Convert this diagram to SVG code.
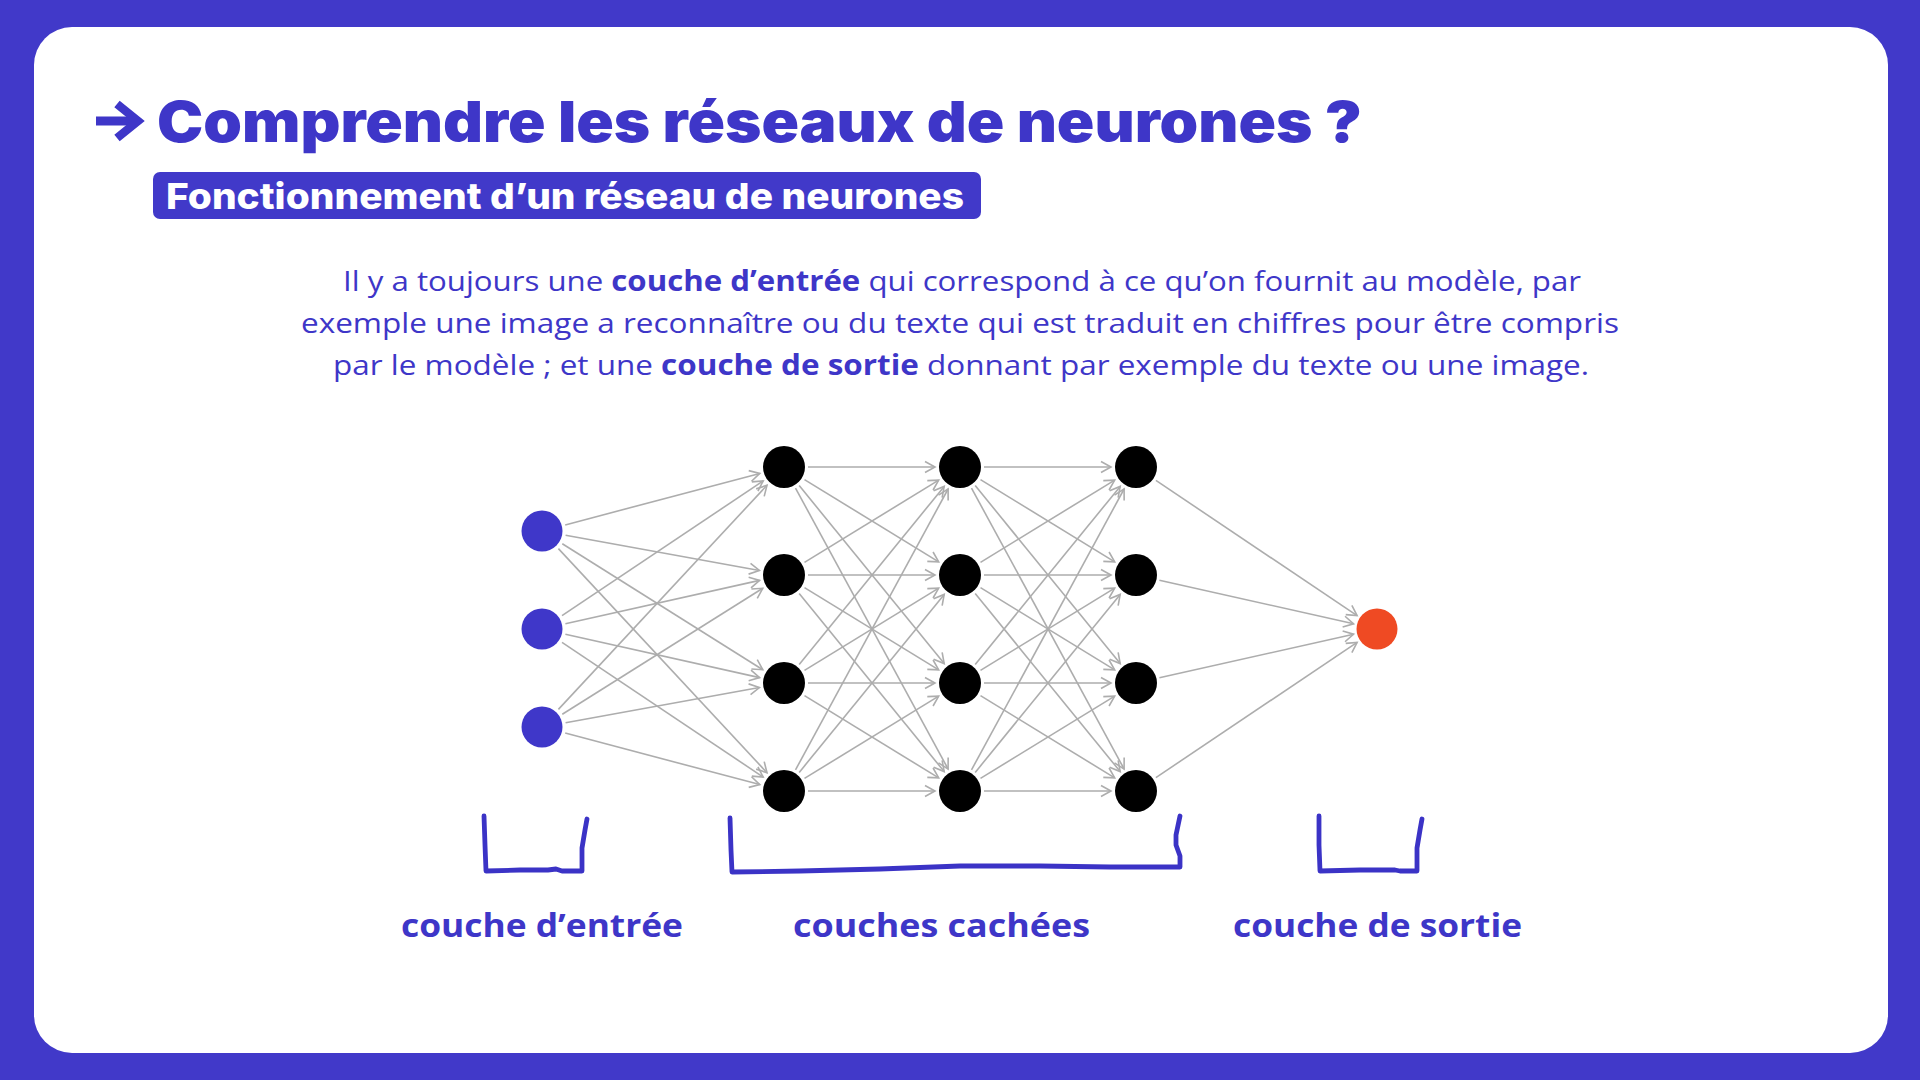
<svg xmlns="http://www.w3.org/2000/svg" width="1920" height="1080" viewBox="0 0 1920 1080">
<style>
.title{font-family:Inter,"Liberation Sans",sans-serif;font-weight:900;font-size:57px;fill:#3E36C8}
.sub{font-family:Inter,"Liberation Sans",sans-serif;font-weight:800;font-size:36px;fill:#FFFFFF}
.para{font-family:"Open Sans","Noto Sans",sans-serif;font-size:28px;fill:#3E36C8}
.b{font-weight:700}
.lbl{font-family:"Open Sans","Noto Sans",sans-serif;font-weight:700;font-size:33px;fill:#3E36C8}
.edge{stroke:#ADADAD;stroke-width:1.6;fill:none;marker-end:url(#arr)}
.in{fill:#3F37C9}
.hid{fill:#000000}
.out{fill:#EF4A23}
.brk{stroke:#3B33C6;stroke-width:4.8;fill:none;stroke-linecap:round;stroke-linejoin:round}
</style>
<defs>
<marker id="arr" markerUnits="userSpaceOnUse" markerWidth="14" markerHeight="14" refX="11" refY="6" orient="auto" overflow="visible">
<path d="M1,0.5 L11,6 L1,11.5" fill="none" stroke="#ADADAD" stroke-width="1.6"/>
</marker>
</defs>
<rect x="0" y="0" width="1920" height="1080" fill="#4139C9"/>
<rect x="34" y="27" width="1854" height="1026" rx="38" fill="#FFFFFF"/>
<g id="title">
<rect x="96" y="116.5" width="38" height="9" fill="#3E36C8"/>
<polyline points="117,104 138,121 117,138" fill="none" stroke="#3E36C8" stroke-width="8.5" stroke-linejoin="miter"/>
<text class="title" x="157" y="142" textLength="1205" lengthAdjust="spacingAndGlyphs">Comprendre les réseaux de neurones ?</text>
</g>
<g id="subtitle">
<rect x="153" y="172" width="828" height="47" rx="7" fill="#4139C9"/>
<text class="sub" x="166" y="209" textLength="798" lengthAdjust="spacingAndGlyphs">Fonctionnement d’un réseau de neurones</text>
</g>
<g id="paragraph">
<text class="para" x="343" y="291" textLength="1238" lengthAdjust="spacingAndGlyphs">Il y a toujours une <tspan class="b">couche d’entrée</tspan> qui correspond à ce qu’on fournit au modèle, par</text>
<text class="para" x="301" y="333" textLength="1318" lengthAdjust="spacingAndGlyphs">exemple une image a reconnaître ou du texte qui est traduit en chiffres pour être compris</text>
<text class="para" x="333" y="375" textLength="1256" lengthAdjust="spacingAndGlyphs">par le modèle ; et une <tspan class="b">couche de sortie</tspan> donnant par exemple du texte ou une image.</text>
</g>
<g id="connectors">
<path class="edge" d="M565.2 524.9 L759.8 473.4"/>
<path class="edge" d="M565.6 535.3 L759.4 570.5"/>
<path class="edge" d="M562.3 543.8 L762.8 669.7"/>
<path class="edge" d="M558.4 548.6 L767 772.7"/>
<path class="edge" d="M562 615.6 L763.2 480.9"/>
<path class="edge" d="M565.4 623.8 L759.6 580.4"/>
<path class="edge" d="M565.4 634.2 L759.6 677.6"/>
<path class="edge" d="M562 642.4 L763.2 777.1"/>
<path class="edge" d="M558.4 709.4 L767 485.3"/>
<path class="edge" d="M562.3 714.2 L762.8 588.3"/>
<path class="edge" d="M565.6 722.7 L759.4 687.5"/>
<path class="edge" d="M565.2 733.1 L759.8 784.6"/>
<path class="edge" d="M808 467 L935 467"/>
<path class="edge" d="M804.5 479.6 L938.7 561.9"/>
<path class="edge" d="M799.2 485.6 L944.2 663.6"/>
<path class="edge" d="M795.5 488.1 L948.1 769"/>
<path class="edge" d="M804.5 562.4 L938.7 480.1"/>
<path class="edge" d="M808 575 L935 575"/>
<path class="edge" d="M804.5 587.6 L938.7 669.9"/>
<path class="edge" d="M799.2 593.6 L944.2 771.6"/>
<path class="edge" d="M799.2 664.4 L944.2 486.4"/>
<path class="edge" d="M804.5 670.4 L938.7 588.1"/>
<path class="edge" d="M808 683 L935 683"/>
<path class="edge" d="M804.5 695.6 L938.7 777.9"/>
<path class="edge" d="M795.5 769.9 L948.1 489"/>
<path class="edge" d="M799.2 772.4 L944.2 594.4"/>
<path class="edge" d="M804.5 778.4 L938.7 696.1"/>
<path class="edge" d="M808 791 L935 791"/>
<path class="edge" d="M984 467 L1111 467"/>
<path class="edge" d="M980.5 479.6 L1114.7 561.9"/>
<path class="edge" d="M975.2 485.6 L1120.2 663.6"/>
<path class="edge" d="M971.5 488.1 L1124.1 769"/>
<path class="edge" d="M980.5 562.4 L1114.7 480.1"/>
<path class="edge" d="M984 575 L1111 575"/>
<path class="edge" d="M980.5 587.6 L1114.7 669.9"/>
<path class="edge" d="M975.2 593.6 L1120.2 771.6"/>
<path class="edge" d="M975.2 664.4 L1120.2 486.4"/>
<path class="edge" d="M980.5 670.4 L1114.7 588.1"/>
<path class="edge" d="M984 683 L1111 683"/>
<path class="edge" d="M980.5 695.6 L1114.7 777.9"/>
<path class="edge" d="M971.5 769.9 L1124.1 489"/>
<path class="edge" d="M975.2 772.4 L1120.2 594.4"/>
<path class="edge" d="M980.5 778.4 L1114.7 696.1"/>
<path class="edge" d="M984 791 L1111 791"/>
<path class="edge" d="M1155.9 480.4 L1357.1 615.6"/>
<path class="edge" d="M1159.4 580.2 L1353.6 623.8"/>
<path class="edge" d="M1159.4 677.8 L1353.6 634.2"/>
<path class="edge" d="M1155.9 777.6 L1357.1 642.4"/>
</g>
<g id="in1"><circle class="in" cx="542" cy="531" r="20.5"/></g>
<g id="in2"><circle class="in" cx="542" cy="629" r="20.5"/></g>
<g id="in3"><circle class="in" cx="542" cy="727" r="20.5"/></g>
<g id="h1a"><circle class="hid" cx="784" cy="467" r="21"/></g>
<g id="h1b"><circle class="hid" cx="784" cy="575" r="21"/></g>
<g id="h1c"><circle class="hid" cx="784" cy="683" r="21"/></g>
<g id="h1d"><circle class="hid" cx="784" cy="791" r="21"/></g>
<g id="h2a"><circle class="hid" cx="960" cy="467" r="21"/></g>
<g id="h2b"><circle class="hid" cx="960" cy="575" r="21"/></g>
<g id="h2c"><circle class="hid" cx="960" cy="683" r="21"/></g>
<g id="h2d"><circle class="hid" cx="960" cy="791" r="21"/></g>
<g id="h3a"><circle class="hid" cx="1136" cy="467" r="21"/></g>
<g id="h3b"><circle class="hid" cx="1136" cy="575" r="21"/></g>
<g id="h3c"><circle class="hid" cx="1136" cy="683" r="21"/></g>
<g id="h3d"><circle class="hid" cx="1136" cy="791" r="21"/></g>
<g id="out1"><circle class="out" cx="1377" cy="629" r="20.5"/></g>
<g id="brackets">
<path class="brk" d="M484 816 L485 845 L486 871 L520 870 L548 870 L556 869 L562 871 L582 871 L582 848 L585 830 L587 819"/>
<path class="brk" d="M730 818 L731 850 L732 872 L800 871 L880 869 L960 866 L1040 866 L1110 867 L1180 867 L1180 856 L1176 845 L1176 835 L1180 816"/>
<path class="brk" d="M1319 816 L1319 845 L1320 871 L1360 870 L1395 870 L1400 871 L1417 871 L1417 848 L1420 830 L1422 819"/>
</g>
<g id="labels">
<text class="lbl" x="401" y="937" textLength="282" lengthAdjust="spacingAndGlyphs">couche d’entrée</text>
<text class="lbl" x="793" y="937" textLength="297" lengthAdjust="spacingAndGlyphs">couches cachées</text>
<text class="lbl" x="1233" y="937" textLength="289" lengthAdjust="spacingAndGlyphs">couche de sortie</text>
</g>
</svg>
